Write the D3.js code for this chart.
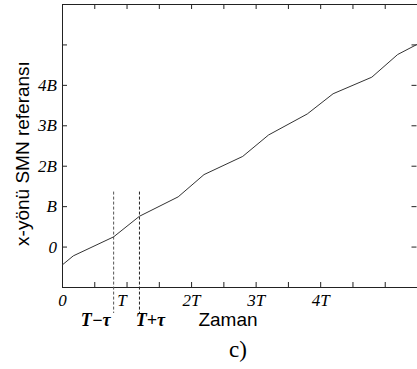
<!DOCTYPE html>
<html>
<head>
<meta charset="utf-8">
<script src="https://cdn.jsdelivr.net/npm/d3@7"></script>
<style>
  body { margin: 0; background: #fff; }
  svg { display: block; }
</style>
</head>
<body>
<svg id="chart" width="417" height="369"></svg>
<script>
// Curve samples: time in units of T, value in units of B.
const timeT = [0, 0.175, 0.8, 1.2, 1.8, 2.2, 2.8, 3.2, 3.8, 4.2, 4.8, 5.2, 5.5];
const refB = [-0.46, -0.23, 0.24, 0.75, 1.23, 1.78, 2.23, 2.76, 3.28, 3.78, 4.19, 4.75, 5.0];

const xTicks = [0, 0.5, 1, 1.5, 2, 2.5, 3, 3.5, 4, 4.5, 5];
const xTickLabels = { 0: '0', 1: 'T', 2: '2T', 3: '3T', 4: '4T' };
const yTicks = [0, 1, 2, 3, 4, 5];
const yTickLabels = { 0: '0', 1: 'B', 2: '2B', 3: '3B', 4: '4B' };

const tau = 0.2;
const markers = [
  { t: 1 - tau, label: 'T\u2212\u03c4' },
  { t: 1 + tau, label: 'T+\u03c4' }
];

const svg = d3.select('#chart');
const m = { left: 62, right: 417, top: 4, bottom: 287 };

const x = d3.scaleLinear().domain([0, 5.5]).range([m.left, m.right]);
const y = d3.scaleLinear().domain([-1, 6]).range([m.bottom, m.top]);

const serif = '"Liberation Serif", "DejaVu Serif", serif';
const sans = '"Liberation Sans", Arial, sans-serif';

// Frame axes, ticks pointing inward.
const bottomAxis = svg.append('g')
  .attr('transform', `translate(0,${m.bottom})`)
  .call(d3.axisBottom(x).tickValues(xTicks).tickSize(-5).tickPadding(7)
    .tickFormat(d => xTickLabels[d] || ''));
const topAxis = svg.append('g')
  .attr('transform', `translate(0,${m.top})`)
  .call(d3.axisTop(x).tickValues(xTicks).tickSize(-5).tickFormat(''));
const leftAxis = svg.append('g')
  .attr('transform', `translate(${m.left},0)`)
  .call(d3.axisLeft(y).tickValues(yTicks).tickSize(-5).tickPadding(5)
    .tickFormat(d => yTickLabels[d] || ''));
const rightAxis = svg.append('g')
  .attr('transform', `translate(${m.right - 0.5},0)`)
  .call(d3.axisRight(y).tickValues(yTicks).tickSize(-5).tickFormat(''));

for (const g of [bottomAxis, topAxis, leftAxis, rightAxis]) {
  g.select('.domain').remove();
  g.selectAll('.tick line').attr('stroke', '#222');
  g.selectAll('text')
    .attr('fill', '#000')
    .style('font-family', serif)
    .style('font-style', 'italic')
    .style('font-size', '17px');
}
// nudge the "T" label left, clear of the dashed marker
bottomAxis.selectAll('.tick text').filter(d => d === 1).attr('dx', '-5');

svg.append('rect')
  .attr('x', m.left + 0.5).attr('y', m.top + 0.5)
  .attr('width', m.right - m.left).attr('height', m.bottom - m.top)
  .attr('fill', 'none')
  .attr('stroke', '#222');

// Dashed markers at T-tau and T+tau, running below the axis.
svg.append('g')
  .selectAll('line')
  .data(markers)
  .join('line')
  .attr('x1', d => x(d.t)).attr('x2', d => x(d.t))
  .attr('y1', y(1.36)).attr('y2', m.bottom + 26)
  .attr('stroke', (d, i) => i === 0 ? '#555' : '#222')
  .attr('stroke-width', 1)
  .attr('stroke-dasharray', '3,2');

svg.append('g')
  .selectAll('text')
  .data(markers)
  .join('text')
  .attr('x', (d, i) => x(d.t) + (i === 0 ? -18 : 11))
  .attr('y', m.bottom + 39)
  .attr('text-anchor', 'middle')
  .style('font-family', serif)
  .style('font-style', 'italic')
  .style('font-weight', 'bold')
  .style('font-size', '18px')
  .text(d => d.label);

// Reference curve.
const line = d3.line().x(d => x(d[0])).y(d => y(d[1]));
svg.append('path')
  .datum(d3.zip(timeT, refB))
  .attr('fill', 'none')
  .attr('stroke', '#333')
  .attr('stroke-width', 1)
  .attr('d', line);

// Titles.
svg.append('text')
  .attr('transform', `translate(22,${(m.top + m.bottom) / 2 + 8}) rotate(-90)`)
  .attr('text-anchor', 'middle')
  .attr('dy', '0.35em')
  .style('font-family', sans)
  .style('font-size', '19px')
  .text('x-yönü SMN referansı');

svg.append('text')
  .attr('x', 228).attr('y', m.bottom + 39)
  .attr('text-anchor', 'middle')
  .style('font-family', sans)
  .style('font-size', '19px')
  .text('Zaman');

svg.append('text')
  .attr('x', 238).attr('y', m.bottom + 70)
  .attr('text-anchor', 'middle')
  .style('font-family', serif)
  .style('font-size', '23px')
  .text('c)');
</script>
</body>
</html>
